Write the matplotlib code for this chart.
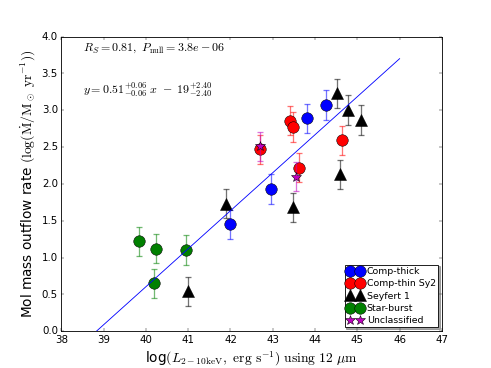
import numpy as np
import matplotlib
matplotlib.use('Agg')
import matplotlib.pyplot as plt

plt.style.use('classic')

# Comp-thick
thick_x = np.array([42.0, 42.96, 43.81, 44.26])
thick_y = np.array([1.45, 1.93, 2.89, 3.07])
# Comp-thin Sy2
thin_x = np.array([42.70, 43.41, 43.48, 43.61, 44.63])
thin_y = np.array([2.47, 2.86, 2.77, 2.22, 2.59])
# Seyfert 1
sy1_x = np.array([41.0, 41.9, 43.47, 44.53, 44.77, 45.08, 44.58])
sy1_y = np.array([0.54, 1.73, 1.68, 3.23, 3.00, 2.87, 2.13])
# Star-burst
sb_x = np.array([39.83, 40.24, 40.95, 40.18])
sb_y = np.array([1.22, 1.12, 1.10, 0.65])
# Unclassified
unc_x = np.array([42.70, 43.54])
unc_y = np.array([2.51, 2.10])

yerr = 0.2

# fitted line end points
fit_x = np.array([38.83, 46.0])
fit_y = np.array([0.0, 3.70])

fig = plt.figure(figsize=(8, 6), dpi=491 / 8)
ax = fig.add_subplot(111)

groups = [
    (thick_x, thick_y, 'b', 'o', 13.5, 'Comp-thick'),
    (thin_x, thin_y, 'r', 'o', 13.5, 'Comp-thin Sy2'),
    (sy1_x, sy1_y, 'k', '^', 13.5, 'Seyfert 1'),
    (sb_x, sb_y, 'g', 'o', 13.5, 'Star-burst'),
    (unc_x, unc_y, 'm', '*', 12, 'Unclassified'),
]

for x, y, c, m, ms, lab in groups:
    ax.errorbar(x, y, yerr=yerr, fmt='none', ecolor=c, alpha=0.55,
                elinewidth=1.5, capsize=3, capthick=1.5)
    ax.plot(x, y, linestyle='none', marker=m, color=c, markersize=ms,
            markeredgecolor='k', markeredgewidth=0.6, label=lab)

ax.plot(fit_x, fit_y, color='b', linewidth=1.0)

ax.text(38.52, 3.85, r'$R_S=0.81,\ P_{\rm null}=3.8e-06$', fontsize=14, va='center')
ax.text(38.52, 3.28, r'$y=0.51^{+0.06}_{-0.06}\ x\ -\ 19^{+2.40}_{-2.40}$',
        fontsize=14, va='center')

ax.set_xlim(38, 47)
ax.set_ylim(0, 4)
ax.set_xticks(np.arange(38, 48, 1))
ax.set_yticks(np.arange(0, 4.01, 0.5))
ax.tick_params(labelsize=12)

ax.set_xlabel(r'log$(L_{\rm 2-10keV},\ {\rm erg\ s^{-1}})\ {\rm using\ 12}\ \mu{\rm m}$',
              fontsize=16)
ax.set_ylabel(r'Mol mass outflow rate $(\log(\dot{\rm M}/{\rm M_\odot\ yr^{-1}}))$',
              fontsize=16)

leg = ax.legend(loc='lower right', numpoints=2, fontsize=11, shadow=True,
                handlelength=1.7, handletextpad=0.4, labelspacing=0.35,
                borderpad=0.25, borderaxespad=0.4)

fig.savefig('out.png', dpi=491 / 8)
